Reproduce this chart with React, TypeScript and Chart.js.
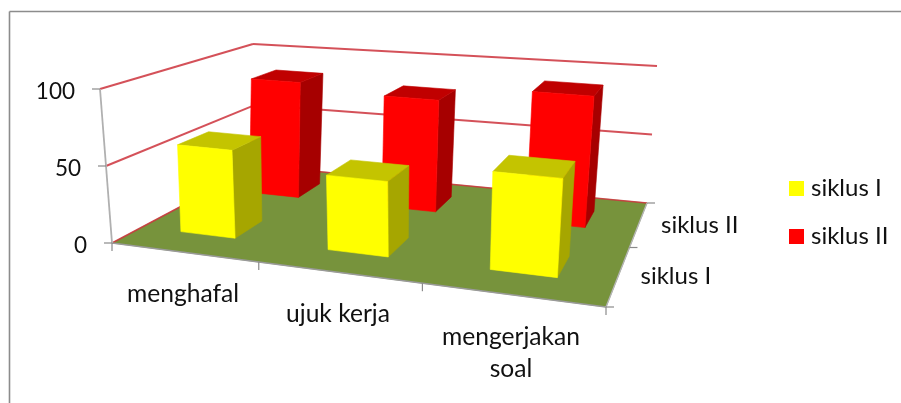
import React, { useEffect, useRef } from "react";
import { Chart, registerables } from "chart.js";

Chart.register(...registerables);

const categories: (string | string[])[] = ["menghafal", "ujuk kerja", ["mengerjakan", "soal"]];
const seriesNames = ["siklus I", "siklus II"];
const siklusI = [58, 48, 61];
const siklusII = [84, 79, 90];
const yTicks = { min: 0, max: 100, step: 50 };

const FONT = "Lato, 'Open Sans', sans-serif";
const TICK_FONT = `22.5px ${FONT}`;
const CAT_FONT = `24.6px ${FONT}`;
const SERIES_FONT = `24px ${FONT}`;
const TEXT = "#111111";
const AXIS = "#8a8a8a";
const GRID = "rgba(205,50,60,0.85)";
const FLOOR_FILL = "#77933c";

type Pt = [number, number];
// Perspective frame of the 3D plot box (layout only).
const FLOOR: Pt[] = [[112, 243], [606, 307], [647, 203], [257.5, 165.7]];
const WALL_TOP: Pt[] = [[100, 89], [616, 136], [657, 66], [253, 44]];
const BAR_TOP: Pt[] = [[102, 89], [620, 136], [659, 66], [263.6, 41]];
const SERIES_DEPTH: Pt[] = [[0.17, 0.358], [0.65, 0.84]];
const CATEGORY_NUDGE = [-0.008, -0.004, -0.003];

function homography(q: Pt[]) {
  const [[x0, y0], [x1, y1], [x2, y2], [x3, y3]] = q;
  const dx1 = x1 - x2, dx2 = x3 - x2, sx = x0 - x1 + x2 - x3;
  const dy1 = y1 - y2, dy2 = y3 - y2, sy = y0 - y1 + y2 - y3;
  const den = dx1 * dy2 - dx2 * dy1;
  const g = (sx * dy2 - dx2 * sy) / den;
  const h = (dx1 * sy - sx * dy1) / den;
  const a = x1 - x0 + g * x1, b = x3 - x0 + h * x3;
  const d = y1 - y0 + g * y1, e = y3 - y0 + h * y3;
  return (u: number, v: number): Pt => {
    const w = g * u + h * v + 1;
    return [(a * u + b * v + x0) / w, (d * u + e * v + y0) / w];
  };
}
const floorAt = homography(FLOOR);
const wallTopAt = homography(WALL_TOP);
const barTopAt = homography(BAR_TOP);
const mix = (f: Pt, r: Pt, t: number): Pt => [f[0] + (r[0] - f[0]) * t, f[1] + (r[1] - f[1]) * t];
const wallPt = (u: number, v: number, t: number) => mix(floorAt(u, v), wallTopAt(u, v), t);
const barPt = (u: number, v: number, t: number) => mix(floorAt(u, v), barTopAt(u, v), t);

function poly(ctx: CanvasRenderingContext2D, pts: Pt[], fill: string) {
  ctx.beginPath();
  pts.forEach((p, i) => (i ? ctx.lineTo(p[0], p[1]) : ctx.moveTo(p[0], p[1])));
  ctx.closePath();
  ctx.fillStyle = fill;
  ctx.fill();
  ctx.strokeStyle = fill;
  ctx.lineWidth = 0.6;
  ctx.stroke();
}
function line(ctx: CanvasRenderingContext2D, a: Pt, b: Pt, color: string, w = 1.5) {
  ctx.beginPath();
  ctx.moveTo(a[0], a[1]);
  ctx.lineTo(b[0], b[1]);
  ctx.strokeStyle = color;
  ctx.lineWidth = w;
  ctx.stroke();
}

const SHADES = [
  { top: "#c4c400", side: "#a6a600" },
  { top: "#c00000", side: "#a60000" },
];

const plot3d = {
  id: "plot3d",
  beforeDatasetsDraw(chart: any) {
    const ctx: CanvasRenderingContext2D = chart.ctx;
    const x = chart.scales.x, y = chart.scales.y;
    const frac = (v: number) => (y.bottom - y.getPixelForValue(v)) / (y.bottom - y.top);
    ctx.save();

    // chart frame
    line(ctx, [9.5, 403], [9.5, 11.5], "#8c8c8c", 1.6);
    line(ctx, [9.5, 11.5], [901, 11.5], "#8c8c8c", 1.6);

    // walls
    y.ticks.forEach((tk: any) => {
      const t = frac(tk.value);
      if (t > 0) {
        line(ctx, wallPt(0, 0, t), wallPt(0, 1, t), GRID, 2);
        line(ctx, wallPt(0, 1, t), wallPt(1, 1, t), GRID, 2);
      }
    });
    poly(ctx, FLOOR, FLOOR_FILL);
    line(ctx, FLOOR[0], FLOOR[3], GRID, 1.6);
    line(ctx, FLOOR[3], FLOOR[2], GRID, 1.6);
    line(ctx, FLOOR[0], FLOOR[1], "#9a9a9a", 1.4);
    line(ctx, FLOOR[1], FLOOR[2], "#b4b4b4", 1.4);

    // value axis
    line(ctx, wallPt(0, 0, 1), wallPt(0, 0, 0), "#b0b0b0", 1.8);
    ctx.font = TICK_FONT;
    ctx.textAlign = "right";
    ctx.textBaseline = "alphabetic";
    y.ticks.forEach((tk: any) => {
      const p = wallPt(0, 0, frac(tk.value));
      line(ctx, [p[0] - 8, p[1]], p, AXIS, 1.2);
      ctx.fillStyle = TEXT;
      ctx.fillText(String(tk.value), p[0] - 25, p[1] + 9.5);
    });

    // category axis ticks and labels
    const nCat = chart.data.labels.length;
    for (let i = 0; i <= nCat; i++) {
      const p = floorAt(i / nCat, 0);
      line(ctx, p, [p[0], p[1] + 8], AXIS, 1.2);
    }
    const catLabelAnchor: Pt[] = [[183, 302], [338, 322], [511, 345]];
    ctx.font = CAT_FONT;
    ctx.textAlign = "center";
    ctx.fillStyle = TEXT;
    chart.data.labels.forEach((lab: string | string[], i: number) => {
      const rows = Array.isArray(lab) ? lab : [lab];
      rows.forEach((r, k) => ctx.fillText(r, catLabelAnchor[i][0], catLabelAnchor[i][1] + k * 32));
    });

    // depth axis ticks and labels
    const nSer = chart.data.datasets.length;
    for (let i = 0; i <= nSer; i++) {
      const p = floorAt(1, i / nSer);
      line(ctx, p, [p[0] + 8, p[1]], AXIS, 1.2);
    }
    const depthLabelAnchor: Pt[] = [[640.5, 284], [661, 232.5]];
    ctx.font = SERIES_FONT;
    ctx.textAlign = "left";
    ctx.fillStyle = TEXT;
    chart.data.datasets.forEach((ds: any, i: number) => {
      ctx.fillText(ds.label, depthLabelAnchor[i][0], depthLabelAnchor[i][1]);
    });

    // bars, back series first; each bar takes its size from its Chart.js element
    for (let s = nSer - 1; s >= 0; s--) {
      const meta = chart.getDatasetMeta(s);
      const [v0, v1] = SERIES_DEPTH[s];
      meta.data.forEach((bar: any, i: number) => {
        const u0 = (bar.x - bar.width / 2 - x.left) / x.width + CATEGORY_NUDGE[i];
        const u1 = (bar.x + bar.width / 2 - x.left) / x.width + CATEGORY_NUDGE[i];
        const t = (y.bottom - bar.y) / (y.bottom - y.top);
        poly(ctx, [barPt(u1, v0, 0), barPt(u1, v1, 0), barPt(u1, v1, t), barPt(u1, v0, t)], SHADES[s].side);
        poly(ctx, [barPt(u0, v0, t), barPt(u1, v0, t), barPt(u1, v1, t), barPt(u0, v1, t)], SHADES[s].top);
        poly(ctx, [barPt(u0, v0, 0), barPt(u1, v0, 0), barPt(u1, v0, t), barPt(u0, v0, t)], chart.data.datasets[s].backgroundColor);
      });
    }

    // legend
    chart.data.datasets.forEach((ds: any, i: number) => {
      const top = 181 + i * 48;
      ctx.fillStyle = ds.backgroundColor;
      ctx.fillRect(789, top, 15, 15);
      ctx.fillStyle = TEXT;
      ctx.fillText(ds.label, 811, top + 15);
    });

    ctx.restore();
    return false;
  },
};

export default function App() {
  const ref = useRef<HTMLCanvasElement>(null);
  useEffect(() => {
    const chart = new Chart(ref.current!, {
      type: "bar",
      data: {
        labels: categories as any,
        datasets: [
          { label: seriesNames[0], data: siklusI, backgroundColor: "#ffff00", borderWidth: 0 },
          { label: seriesNames[1], data: siklusII, backgroundColor: "#ff0000", borderWidth: 0 },
        ],
      },
      plugins: [plot3d as any],
      options: {
        animation: false,
        responsive: false,
        datasets: { bar: { grouped: false, categoryPercentage: 0.385, barPercentage: 1 } } as any,
        scales: {
          x: { display: false },
          y: { display: false, min: yTicks.min, max: yTicks.max, ticks: { stepSize: yTicks.step } },
        },
        plugins: {
          tooltip: { enabled: false },
          legend: { display: false },
        },
      },
    });
    return () => chart.destroy();
  }, []);
  return (
    <canvas
      ref={ref}
      width={901}
      height={403}
      style={{ position: "absolute", left: 0, top: 0, width: 901, height: 403, background: "#fff" }}
    />
  );
}
